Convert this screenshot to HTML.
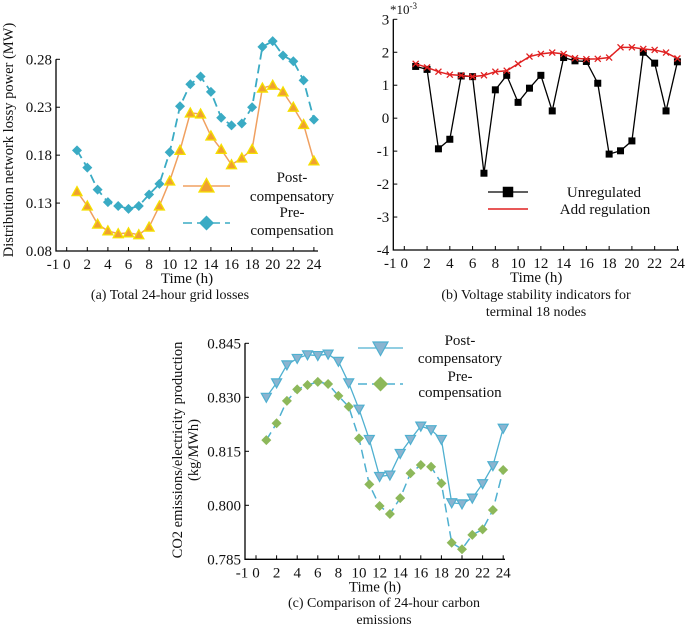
<!DOCTYPE html>
<html><head><meta charset="utf-8">
<style>
html,body{margin:0;padding:0;background:#fff;}
svg{display:block;font-family:"Liberation Serif",serif;}
text{fill:#111;}
</style></head>
<body>
<svg id="chart" width="685" height="631" viewBox="0 0 685 631"></svg>
<script>
const hours=[1,2,3,4,5,6,7,8,9,10,11,12,13,14,15,16,17,18,19,20,21,22,23,24];
const xTicks=[0,2,4,6,8,10,12,14,16,18,20,22,24];
// (a)
const aPost=[0.142,0.127,0.108,0.101,0.098,0.099,0.097,0.105,0.127,0.153,0.185,0.224,0.223,0.200,0.186,0.170,0.177,0.186,0.250,0.253,0.246,0.230,0.212,0.174];
const aPre=[0.185,0.167,0.144,0.131,0.127,0.124,0.127,0.139,0.150,0.183,0.231,0.254,0.262,0.246,0.219,0.211,0.213,0.230,0.293,0.299,0.284,0.278,0.258,0.217];
const aYTicks=[0.08,0.13,0.18,0.23,0.28];
// (b)
const bUnreg=[1.57,1.48,-0.93,-0.64,1.28,1.26,-1.67,0.86,1.30,0.48,0.91,1.30,0.22,1.84,1.74,1.72,1.06,-1.09,-0.99,-0.69,2.00,1.67,0.22,1.71];
const bReg=[1.65,1.54,1.41,1.32,1.30,1.26,1.30,1.41,1.44,1.65,1.87,1.95,1.99,1.95,1.82,1.79,1.80,1.84,2.15,2.15,2.10,2.07,1.99,1.81];
const bYTicks=[-4,-3,-2,-1,0,1,2,3];
// (c)
const cPost=[0.830,0.834,0.839,0.8408,0.8418,0.8416,0.842,0.840,0.834,0.8267,0.8183,0.808,0.8084,0.8144,0.8183,0.822,0.821,0.8183,0.8007,0.8004,0.802,0.806,0.811,0.8214];
const cPre=[0.8181,0.8228,0.829,0.8322,0.8334,0.8343,0.8337,0.8304,0.8274,0.8186,0.8058,0.7998,0.7976,0.802,0.8089,0.8112,0.8107,0.8061,0.7896,0.7878,0.7918,0.7933,0.7987,0.8098];
const cYTicks=[0.785,0.800,0.815,0.830,0.845];

const NS="http://www.w3.org/2000/svg";
const svg=document.getElementById('chart');
function el(tag,attrs,parent,txt){const e=document.createElementNS(NS,tag);for(const k in attrs)e.setAttribute(k,attrs[k]);if(txt!==undefined)e.textContent=txt;(parent||svg).appendChild(e);return e;}

function panel(cfg){
  const g=el('g',{});
  
  
  const x=t=>cfg.x0+cfg.xs*t;
  const y=v=>cfg.yb-(v-cfg.ymin)/(cfg.ymax-cfg.ymin)*(cfg.yb-cfg.yt);
  const ax=el('path',{d:`M${cfg.ax} ${cfg.yt} V${cfg.yb} H${cfg.axEnd}`,stroke:'#000','stroke-width':1.3,fill:'none'},g);
  
  
  cfg.yTicks.forEach((v,i)=>{
    el('line',{x1:cfg.ax,x2:cfg.ax+4,y1:y(v),y2:y(v),stroke:'#000'},g);
    const t=el('text',{x:cfg.ax-4,y:y(v)+5,'text-anchor':'end','font-size':15},g,cfg.yFmt(v));
    
    
  });
  const m=el('text',{x:cfg.ax-3,y:cfg.yb+18,'text-anchor':'middle','font-size':15},g,'-1');
  
  
  xTicks.forEach(v=>{
    el('line',{x1:x(v),x2:x(v),y1:cfg.yb,y2:cfg.yb-4,stroke:'#000'},g);
    const t=el('text',{x:x(v),y:cfg.yb+18,'text-anchor':'middle','font-size':15},g,String(v));
    
    
  });
  const xt=el('text',{x:(cfg.ax+cfg.axEnd)/2,y:cfg.yb+32,'text-anchor':'middle','font-size':15},g,'Time (h)');
  
  
  cfg.caption.forEach((c,i)=>{
    const t=el('text',{x:cfg.capX,y:cfg.capY+i*17,'text-anchor':'middle','font-size':14},g,c);
    
    
  });
  cfg.yTitle.forEach((c,i)=>{
    const tx=cfg.yTitleX+i*16;
    const t=el('text',{x:tx,y:cfg.yTitleY,'text-anchor':'middle','font-size':14.5,transform:`rotate(-90 ${tx} ${cfg.yTitleY})`},g,c);
    
    
  });
  cfg.series.forEach(s=>{
    const pts=s.data.map((v,i)=>[x(hours[i]),y(v)]);
    const sg=el('g',{},g);
    
    
    el('polyline',{points:pts.map(p=>p.join(',')).join(' '),fill:'none',stroke:s.color,'stroke-width':s.w||1.5,'stroke-dasharray':s.dash||'none'},sg);
    pts.forEach(pt=>marker(sg,s.marker,pt[0],pt[1],s,1));
  });
  return {g,x,y};
}
function marker(g,type,cx,cy,s,k){
  if(type==='tri') el('polygon',{points:`${cx},${cy-5*k} ${cx-5*k},${cy+4*k} ${cx+5*k},${cy+4*k}`,fill:'#f0a030',stroke:'#f5e000','stroke-width':1.3},g);
  else if(type==='dia') el('polygon',{points:`${cx},${cy-5*k} ${cx+5*k},${cy} ${cx},${cy+5*k} ${cx-5*k},${cy}`,fill:s.mcolor||s.color,stroke:'none'},g);
  else if(type==='sq') el('rect',{x:cx-3.5*k,y:cy-3.5*k,width:7*k,height:7*k,fill:'#000'},g);
  else if(type==='x'){el('path',{d:`M${cx-3} ${cy-3}L${cx+3} ${cy+3}M${cx-3} ${cy+3}L${cx+3} ${cy-3}`,stroke:'#e02020','stroke-width':1.3},g);}
  else if(type==='vtri') el('polygon',{points:`${cx-5*k},${cy-4*k} ${cx+5*k},${cy-4*k} ${cx},${cy+5*k}`,fill:'#8ab4d0',stroke:'#4fb0d0','stroke-width':1.2},g);
}

panel({name:'panel-a-grid-losses',ax:56,axEnd:318,x0:66.7,xs:10.3,yt:59.3,yb:251,ymin:0.08,ymax:0.28,yTicks:aYTicks,yFmt:v=>v.toFixed(2),
  caption:['(a) Total 24-hour grid losses'],capX:170,capY:299,yTitle:['Distribution network lossy power (MW)'],yTitleX:13,yTitleY:140,
  series:[{name:'series-post-compensatory',data:aPost,color:'#f0a060',marker:'tri'},
          {name:'series-pre-compensation',data:aPre,color:'#3aabc4',marker:'dia',dash:'9,5',w:1.8}]});
panel({name:'panel-b-voltage-stability',ax:393.3,axEnd:679,x0:404.3,xs:11.38,yt:19.3,yb:250,ymin:-4,ymax:3,yTicks:bYTicks,yFmt:v=>String(v),
  caption:['(b) Voltage stability indicators for','terminal 18 nodes'],capX:536,capY:299,yTitle:[],yTitleX:0,yTitleY:0,
  series:[{name:'series-unregulated',data:bUnreg,color:'#000',marker:'sq',w:1.3},
          {name:'series-add-regulation',data:bReg,color:'#e02020',marker:'x',w:1.5}]});
panel({name:'panel-c-carbon-emissions',ax:245,axEnd:505,x0:256,xs:10.3,yt:343.3,yb:559.3,ymin:0.785,ymax:0.845,yTicks:cYTicks,yFmt:v=>v.toFixed(3),
  caption:['(c) Comparison of 24-hour carbon','emissions'],capX:384,capY:607,yTitle:['CO2 emissions/electricity production','(kg/MWh)'],yTitleX:182,yTitleY:450,
  series:[{name:'series-post-compensatory-c',data:cPost,color:'#4fb0d0',marker:'vtri',w:1.3},
          {name:'series-pre-compensation-c',data:cPre,color:'#4fb0d0',marker:'dia',mcolor:'#8db85a',dash:'9,5',w:1.5}]});

// exponent label
const ex=el('text',{x:390,y:14,'font-size':13},svg,'*10');


el('tspan',{dy:-5,'font-size':9},ex,'-3');

// legends
function legend(name,x1,x2,y,s,lab,lx){
  const g=el('g',{});
  
  
  el('line',{x1,x2,y1:y,y2:y,stroke:s.color,'stroke-width':s.w||1.5,'stroke-dasharray':s.dash||'none'},g);
  marker(g,s.marker,(x1+x2)/2,y,s,1.5);
  lab.forEach(l=>el('text',{x:lx,y:l[1]+5,'text-anchor':'middle','font-size':15},g,l[0]));
}
legend('legend-post-compensatory-a',183,230,186,{color:'#f0a060',marker:'tri'},[['Post-',177],['compensatory',196]],292);
legend('legend-pre-compensation-a',183,230,223,{color:'#3aabc4',marker:'dia',dash:'9,5'},[['Pre-',212],['compensation',230]],292);
legend('legend-unregulated',488,528,192,{color:'#000',marker:'sq',w:1.3},[['Unregulated',192]],604);
legend('legend-add-regulation',488,528,209,{color:'#e02020',marker:'none'},[['Add regulation',209]],605);
legend('legend-post-compensatory-c',358,403,348,{color:'#4fb0d0',marker:'vtri',w:1.3},[['Post-',340],['compensatory',358]],460);
legend('legend-pre-compensation-c',358,403,384,{color:'#4fb0d0',marker:'dia',mcolor:'#8db85a',dash:'9,5'},[['Pre-',376],['compensation',392]],460);
</script>
</body></html>
